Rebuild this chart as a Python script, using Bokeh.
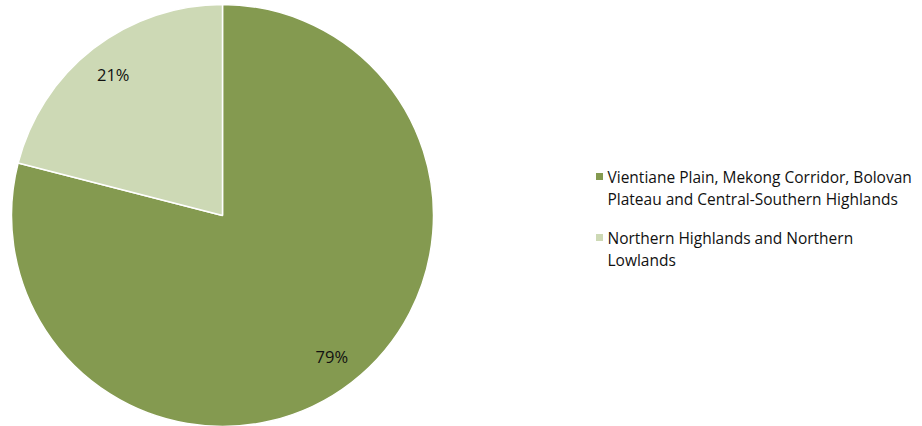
import math
from bokeh.plotting import figure
from bokeh.models import Range1d, ColumnDataSource
from bokeh.core.properties import value
from bokeh.embed import file_html
from bokeh.resources import INLINE

categories = ["Vientiane Plain, Mekong Corridor, Bolovan\nPlateau and Central-Southern Highlands",
              "Northern Highlands and Northern\nLowlands"]
shares = [79, 21]
labels = ["79%", "21%"]
colors = ["#849a50", "#cdd9b5"]

W, H = 922, 426
cx, cy, R = 222, H - 215, 211

p = figure(width=W, height=H, output_backend="svg", toolbar_location=None,
           x_range=Range1d(0, W), y_range=Range1d(0, H), min_border=0)
p.axis.visible = False
p.grid.visible = False
p.outline_line_color = None
p.background_fill_color = "white"

total = sum(shares)
# clockwise from 12 o'clock
start = math.pi / 2
starts, ends, lx, ly = [], [], [], []
for s in shares:
    a = 2 * math.pi * s / total
    end = start
    st = start - a
    starts.append(st)
    ends.append(end)
    mid = (st + end) / 2
    lx.append(cx + 0.845 * R * math.cos(mid))
    ly.append(cy + 0.845 * R * math.sin(mid))
    start = st

src = ColumnDataSource(dict(start=starts, end=ends, color=colors, lx=lx, ly=ly, lab=labels))
p.wedge(x=cx, y=cy, radius=R, start_angle="start", end_angle="end",
        fill_color="color", line_color="white", line_width=1.5, source=src)
p.text(x="lx", y="ly", text="lab", source=src, text_align="center", text_baseline="middle",
       text_font=value("Open Sans"), text_font_size="16.5px", text_color="#111111")

# legend
leg_x, leg_top, line_h, gap = 607, H - 176, 22, 39
ly_items = [leg_top, leg_top - line_h - gap]
p.rect(x=[leg_x - 8] * 2, y=ly_items, width=7, height=7, fill_color=colors, line_color=None)
txt_x, txt_y = [], []
for cat, y0 in zip(categories, ly_items):
    for i, line in enumerate(cat.split("\n")):
        txt_x.append(leg_x)
        txt_y.append(y0 - i * line_h)
lines = [l for c in categories for l in c.split("\n")]
p.text(x=txt_x, y=txt_y, text=lines, text_align="left", text_baseline="middle",
       text_font=value("Open Sans"), text_font_size="15.5px", text_color="#111111")

open("out.html", "w").write(file_html(p, INLINE))
